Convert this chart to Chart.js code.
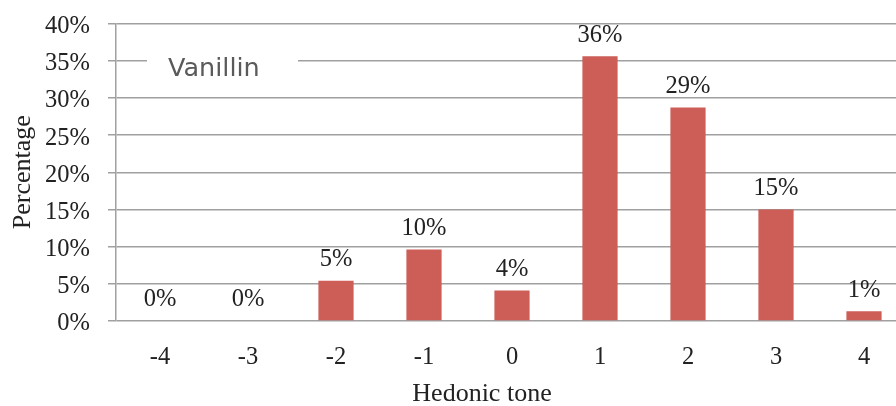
<!DOCTYPE html>
<html>
<head>
<meta charset="utf-8">
<script src="https://cdn.jsdelivr.net/npm/chart.js@4/dist/chart.umd.min.js"></script>
<style>
  html, body { margin: 0; padding: 0; background: #fff; overflow: hidden; }
  canvas { display: block; }
</style>
</head>
<body>
<canvas id="c" width="920" height="406" style="width:920px;height:406px"></canvas>
<script>
// Hedonic tone ratings for vanillin (share of panel answers)
const categories = ['-4', '-3', '-2', '-1', '0', '1', '2', '3', '4'];
const percentages = [0, 0, 5.4, 9.6, 4.1, 35.6, 28.7, 15.0, 1.3];
const seriesName = 'Vanillin';
const yTicks = [0, 5, 10, 15, 20, 25, 30, 35, 40];
const xTitle = 'Hedonic tone';
const yTitle = 'Percentage';

const serif = "'Liberation Serif', 'Times New Roman', serif";
const gridGray = '#A0A0A0';
const textDark = '#222222';

// Value labels above each bar
const barLabels = {
  id: 'barLabels',
  afterDatasetsDraw(chart) {
    const ctx = chart.ctx;
    const meta = chart.getDatasetMeta(0);
    const data = chart.data.datasets[0].data;
    ctx.save();
    ctx.font = '24.5px ' + serif;
    ctx.fillStyle = textDark;
    ctx.textAlign = 'center';
    ctx.textBaseline = 'middle';
    meta.data.forEach((bar, i) => {
      ctx.fillText(Math.round(data[i]) + '%', bar.x, bar.y - 21);
    });
    ctx.restore();
  }
};

// Series name box in the upper left of the plot, and the x axis caption
const annotations = {
  id: 'annotations',
  afterDraw(chart) {
    const { ctx, chartArea } = chart;
    const x = chartArea.left + 31;
    const y = chartArea.top + 26;
    ctx.save();
    ctx.fillStyle = '#ffffff';
    ctx.fillRect(x, y, 151, 46);
    ctx.font = '25.5px "DejaVu Sans", sans-serif';
    ctx.fillStyle = '#5a5a5a';
    ctx.textAlign = 'left';
    ctx.textBaseline = 'alphabetic';
    ctx.fillText(chart.data.datasets[0].label, x + 21, y + 26);

    ctx.font = '26px ' + serif;
    ctx.fillStyle = textDark;
    ctx.textAlign = 'center';
    ctx.fillText(xTitle, chartArea.left + 366, chart.height - 5);
    ctx.restore();
  }
};

new Chart(document.getElementById('c'), {
  type: 'bar',
  data: {
    labels: categories,
    datasets: [{
      label: seriesName,
      data: percentages,
      backgroundColor: 'rgb(205,93,87)',
      borderWidth: 0,
      categoryPercentage: 1.0,
      barPercentage: 0.4
    }]
  },
  options: {
    responsive: false,
    animation: false,
    devicePixelRatio: 1,
    layout: { padding: { top: 23.5, right: 12, left: 0, bottom: 0 } },
    plugins: {
      legend: { display: false },
      tooltip: { enabled: false }
    },
    scales: {
      x: {
        grid: { display: false, drawTicks: false },
        border: { display: false },
        ticks: {
          color: textDark,
          font: { family: serif, size: 24.5, lineHeight: 1.2 },
          padding: 22,
          maxRotation: 0
        },
        afterFit(scale) {
          scale.height = 85;
          scale.paddingLeft = 0;
          scale.paddingRight = 0;
        }
      },
      y: {
        min: 0,
        max: 40,
        afterBuildTicks(scale) {
          scale.ticks = yTicks.map(v => ({ value: v }));
        },
        grid: {
          color: gridGray,
          lineWidth: 1.5,
          drawTicks: true,
          tickLength: 8,
          tickColor: gridGray
        },
        border: { display: true, color: gridGray, width: 1.5 },
        ticks: {
          color: textDark,
          font: { family: serif, size: 24.5 },
          padding: 18,
          labelOffset: 3,
          callback: v => v + '%'
        },
        title: {
          display: true,
          text: yTitle,
          color: textDark,
          font: { family: serif, size: 26, lineHeight: 1 },
          padding: { top: 10, bottom: 0 }
        },
        afterFit(scale) {
          scale.width = 116;
          scale.paddingTop = 0;
          scale.paddingBottom = 0;
        }
      }
    }
  },
  plugins: [barLabels, annotations]
});
</script>
</body>
</html>
